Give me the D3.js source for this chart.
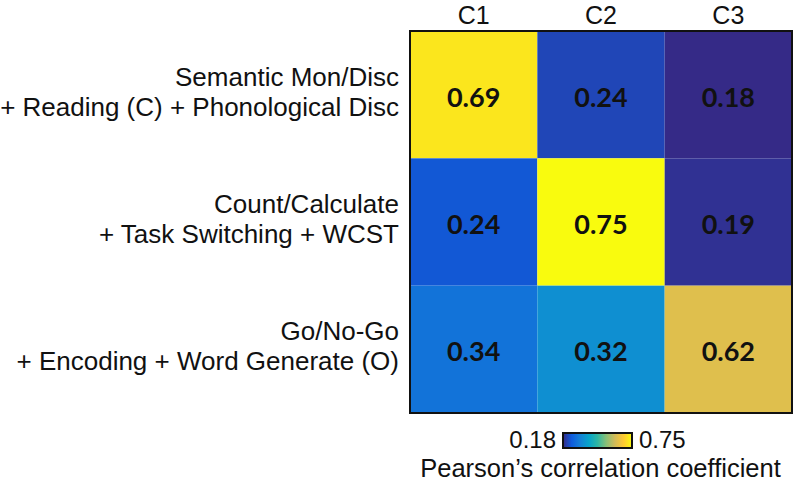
<!DOCTYPE html>
<html>
<head>
<meta charset="utf-8">
<script src="https://cdn.jsdelivr.net/npm/d3@7"></script>
<style>
  body { margin: 0; background: #fff; }
  svg { display: block; }
  .lbl { font-family: "Liberation Sans", Arial, sans-serif; fill: #111; }
  .val { font-family: Lato, "Open Sans", sans-serif; font-weight: 700; fill: #111; }
</style>
</head>
<body>
<svg id="chart" width="800" height="487"></svg>
<script>
    // columns and rows of the matrix
    var columns = ['C1', 'C2', 'C3'];
    var rows = [
        ['Semantic Mon/Disc', '+ Reading (C) + Phonological Disc'],
        ['Count/Calculate', '+ Task Switching + WCST'],
        ['Go/No-Go', '+ Encoding + Word Generate (O)']
    ];

    // printed coefficients, row by row
    var values = [
        [0.69, 0.24, 0.18],
        [0.24, 0.75, 0.19],
        [0.34, 0.32, 0.62]
    ];
    // colour level of each cell
    var shades = [
        [0.72, 0.22, 0.18],
        [0.245, 0.75, 0.19],
        [0.295, 0.35, 0.63]
    ];
    var colorLimits = [0.18, 0.75];

    // parula-like colormap stops
    var parula = ['#352a87', '#0f5cdd', '#1481d6', '#06a4ca', '#2eb7a4',
                  '#87bf77', '#d1bb59', '#fec832', '#f9fb0e'];

    var svg = d3.select('#chart');

    var x = d3.scaleBand().domain(columns).range([410, 792]);
    var y = d3.scaleBand().domain(d3.range(rows.length)).range([31, 413]);

    var interp = d3.piecewise(d3.interpolateRgb, parula);
    var color = d3.scaleSequential(interp).domain(colorLimits);

    var cells = [];
    values.forEach(function(r, i) {
        r.forEach(function(v, j) {
            cells.push({ row: i, col: columns[j], value: v, shade: shades[i][j] });
        });
    });

    svg.append('g').selectAll('rect')
        .data(cells)
        .enter().append('rect')
        .attr('x', function(d) { return x(d.col); })
        .attr('y', function(d) { return y(d.row); })
        .attr('width', x.bandwidth())
        .attr('height', y.bandwidth())
        .attr('fill', function(d) { return color(d.shade); });

    svg.append('g').selectAll('text')
        .data(cells)
        .enter().append('text')
        .attr('class', 'val')
        .attr('x', function(d) { return x(d.col) + x.bandwidth() / 2; })
        .attr('y', function(d) { return y(d.row) + y.bandwidth() / 2 + 12; })
        .attr('text-anchor', 'middle')
        .style('font-size', '27px')
        .text(function(d) { return d3.format('.2f')(d.value); });

    // frame round the matrix
    svg.append('rect')
        .attr('x', x.range()[0])
        .attr('y', y.range()[0])
        .attr('width', x.range()[1] - x.range()[0])
        .attr('height', y.range()[1] - y.range()[0])
        .attr('fill', 'none')
        .attr('stroke', '#111')
        .attr('stroke-width', 2);

    // column labels
    svg.append('g').selectAll('text')
        .data(columns)
        .enter().append('text')
        .attr('class', 'lbl')
        .attr('x', function(d) { return x(d) + x.bandwidth() / 2; })
        .attr('y', 24)
        .attr('text-anchor', 'middle')
        .style('font-size', '25px')
        .text(function(d) { return d; });

    // row labels, two lines each
    var rowLabels = svg.append('g').selectAll('text')
        .data(rows)
        .enter().append('text')
        .attr('class', 'lbl')
        .attr('text-anchor', 'end')
        .style('font-size', '26px');
    rowLabels.selectAll('tspan')
        .data(function(d, i) { return d.map(function(t, k) { return { t: t, k: k, i: i }; }); })
        .enter().append('tspan')
        .attr('x', 399)
        .attr('y', function(d) { return y(d.i) + y.bandwidth() / 2 - 9 + d.k * 30; })
        .text(function(d) { return d.t; });

    // colour bar
    var bar = { x0: 563, x1: 632, y0: 433, y1: 448 };
    var defs = svg.append('defs');
    var grad = defs.append('linearGradient').attr('id', 'cbar');
    parula.forEach(function(c, i) {
        grad.append('stop')
            .attr('offset', (i / (parula.length - 1) * 100) + '%')
            .attr('stop-color', c);
    });
    svg.append('rect')
        .attr('x', bar.x0).attr('y', bar.y0)
        .attr('width', bar.x1 - bar.x0).attr('height', bar.y1 - bar.y0)
        .attr('fill', 'url(#cbar)')
        .attr('stroke', '#111')
        .attr('stroke-width', 2);

    svg.append('text').attr('class', 'lbl')
        .attr('x', bar.x0 - 7).attr('y', bar.y1)
        .attr('text-anchor', 'end')
        .style('font-size', '24px')
        .text(d3.format('.2f')(colorLimits[0]));
    svg.append('text').attr('class', 'lbl')
        .attr('x', bar.x1 + 7).attr('y', bar.y1)
        .style('font-size', '24px')
        .text(d3.format('.2f')(colorLimits[1]));

    svg.append('text').attr('class', 'lbl')
        .attr('x', (bar.x0 + bar.x1) / 2 + 3).attr('y', 477)
        .attr('text-anchor', 'middle')
        .style('font-size', '25.5px')
        .text('Pearson\u2019s correlation coefficient');
</script>
</body>
</html>
